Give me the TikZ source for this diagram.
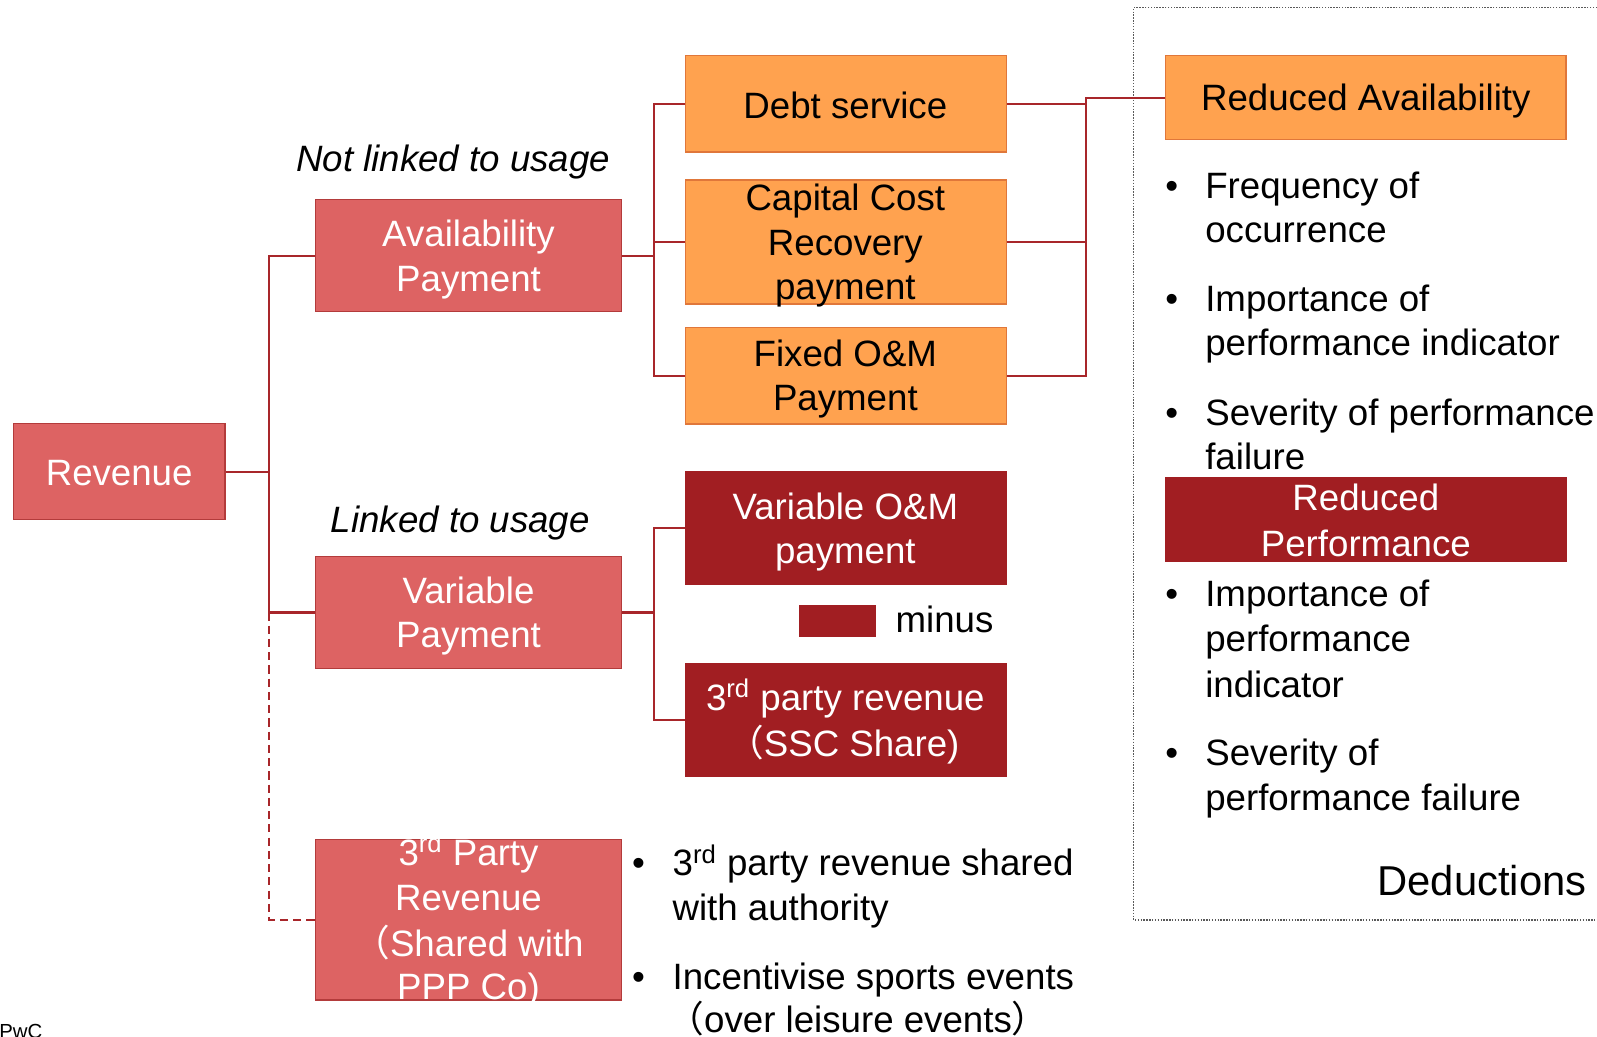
\documentclass[tikz,border=0pt]{standalone}
\usepackage{fontspec}
\setmainfont{Liberation Sans}
\newfontfamily\cjk{Noto Sans CJK SC}
\usetikzlibrary{fit}
\definecolor{lred}{HTML}{DD6363}
\definecolor{lredb}{HTML}{B33B3B}
\definecolor{orng}{HTML}{FFA24F}
\definecolor{orngb}{HTML}{E0773A}
\definecolor{dred}{HTML}{A11E22}
\definecolor{conn}{HTML}{A8262A}
\newcommand\flp{{\cjk （}}
\newcommand\frp{{\cjk ）}}
\begin{document}
\begin{tikzpicture}[x=0.5pt,y=-0.5pt,
  box/.style={draw, inner sep=0pt, line width=0.6pt},
  lbox/.style={box, fill=lred, draw=lredb},
  obox/.style={box, fill=orng, draw=orngb},
  dbox/.style={box, fill=dred, draw=dred},
  tx/.style={anchor=base, inner sep=0pt, font=\fontsize{18}{22}\selectfont},
  wt/.style={tx, text=white},
  bk/.style={tx, text=black},
  it/.style={tx, font=\fontsize{18}{22}\selectfont\itshape},
  lt/.style={tx, anchor=base west},
  bul/.style={tx},
  cn/.style={draw=conn, line width=1pt},
  dotbox/.style={draw=black!65, line width=0.6pt, dash pattern=on 0.7pt off 0.7pt},
]
\useasboundingbox (0,0) rectangle (1568,1018);

% dotted frame
\draw[dotbox] (1568,7.2) -- (1113,7.2) -- (1113,903.3) -- (1568,903.3);

% Revenue
\node[lbox, fit={(13,416) (221,510)}] (rev) {};
\node[wt] (revT) at (117,477) {Revenue};

% Availability
\node[it] (nl) at (445,168.5) {Not linked to usage};
\node[lbox, fit={(309.5,196) (610.5,306)}] (avail) {};
\node[wt] (availT1) at (460,242) {Availability};
\node[wt] (availT2) at (460,286.5) {Payment};

% Orange boxes
\node[obox, fit={(673,54.7) (988,149.2)}] (debt) {};
\node[bk] (debtT) at (830,116) {Debt service};
\node[obox, fit={(673,176.7) (988,298.5)}] (cap) {};
\node[bk] (capT1) at (830,207) {Capital Cost};
\node[bk] (capT2) at (830,250.4) {Recovery};
\node[bk] (capT3) at (830,294) {payment};
\node[obox, fit={(673,321.4) (988,416.3)}] (fix) {};
\node[bk] (fixT1) at (830,359.4) {Fixed O\&M};
\node[bk] (fixT2) at (830,403.2) {Payment};

% Reduced Availability
\node[obox, fit={(1144,54.7) (1537.5,136.8)}] (ra) {};
\node[bk] (raT) at (1341,108) {Reduced Availability};
\node[bul] (b1) at (1150.5,194.6) {•};
\node[lt] (b1a) at (1183,194.6) {Frequency of};
\node[lt] (b1b) at (1183,238.4) {occurrence};
\node[bul] (b2) at (1150.5,306) {•};
\node[lt] (b2a) at (1183,306) {Importance of};
\node[lt] (b2b) at (1183,349.5) {performance indicator};
\node[bul] (b3) at (1150.5,417.3) {•};
\node[lt] (b3a) at (1183,417.3) {Severity of performance};
\node[lt] (b3b) at (1183,460.7) {failure};

% Reduced Performance
\node[dbox, fit={(1144,468.7) (1537.5,551.5)}] (rp) {};
\node[wt] (rpT1) at (1341,501.4) {Reduced};
\node[wt] (rpT2) at (1341,546) {Performance};
\node[bul] (b4) at (1150.5,595.7) {•};
\node[lt] (b4a) at (1183,595.7) {Importance of};
\node[lt] (b4b) at (1183,639.8) {performance};
\node[lt] (b4c) at (1183,684.7) {indicator};
\node[bul] (b5) at (1150.5,752) {•};
\node[lt] (b5a) at (1183,752) {Severity of};
\node[lt] (b5b) at (1183,795.3) {performance failure};
\node[tx, anchor=base east, font=\fontsize{20.5}{24}\selectfont] (ded) at (1558,878.8) {Deductions};

% Variable
\node[it] (lk) at (452,523) {Linked to usage};
\node[lbox, fit={(309.5,546.5) (610.5,656.2)}] (var) {};
\node[wt] (varT1) at (460,592.4) {Variable};
\node[wt] (varT2) at (460,635.6) {Payment};
\node[dbox, fit={(673,463.1) (988,573.4)}] (vom) {};
\node[wt] (vomT1) at (830,510) {Variable O\&M};
\node[wt] (vomT2) at (830,553) {payment};
\node[dbox, fit={(785.5,595) (859.6,625.1)}] (mb) {};
\node[lt] (mt) at (879,621.2) {minus};
\node[dbox, fit={(673,651.3) (988,761.9)}] (tp) {};
\node[wt] (tpT1) at (830,697.8) {3\textsuperscript{rd} party revenue};
\node[wt] (tpT2) at (828,742.3) {\flp SSC Share)};

% 3rd party revenue
\node[lbox, fit={(309.5,824.1) (610.5,981.8)}] (tpr) {};
\node[wt] (tprT1) at (460,849.3) {3\textsuperscript{rd} Party};
\node[wt] (tprT2) at (460,893.5) {Revenue};
\node[wt] (tprT3) at (460,939.3) {\flp Shared with};
\node[wt] (tprT4) at (460,981.8) {PPP Co)};
\node[bul] (b6) at (627,860) {•};
\node[lt] (b6a) at (660,860) {3\textsuperscript{rd} party revenue shared};
\node[lt] (b6b) at (660,903.3) {with authority};
\node[bul] (b7) at (627,972) {•};
\node[lt] (b7a) at (660,972) {Incentivise sports events};
\node[lt] (b7b) at (655,1014) {\flp over leisure events\frp};

\node[tx, anchor=base west, font=\fontsize{10}{12}\selectfont] (pwc) at (-1,1020) {PwC};

% connectors
\coordinate (jR) at (264.4,462.5);
\draw[cn] (rev.east) -- (rev.east -| jR);
\draw[cn] (avail.west) -- (avail.west -| jR) -- (var.west -| jR) -- (var.west);
\draw[cn, dash pattern=on 4pt off 2.5pt] (var.west -| jR) -- (tpr.west -| jR) -- (tpr.west);
\coordinate (jA) at (641.7,0);
\draw[cn] (avail.east) -- (avail.east -| jA);
\draw[cn] (debt.west) -- (debt.west -| jA) -- (fix.west -| jA) -- (fix.west);
\draw[cn] (cap.west) -- (cap.west -| jA);
\coordinate (jB) at (1066,0);
\draw[cn] (debt.east) -- (debt.east -| jB);
\draw[cn] (ra.west) -- (ra.west -| jB) -- (fix.east -| jB) -- (fix.east);
\draw[cn] (cap.east) -- (cap.east -| jB);
\coordinate (jC) at (642,0);
\draw[cn] (var.east) -- (var.east -| jC);
\draw[cn] (vom.west) -- (vom.west -| jC) -- (tp.west -| jC) -- (tp.west);
\end{tikzpicture}
\end{document}
